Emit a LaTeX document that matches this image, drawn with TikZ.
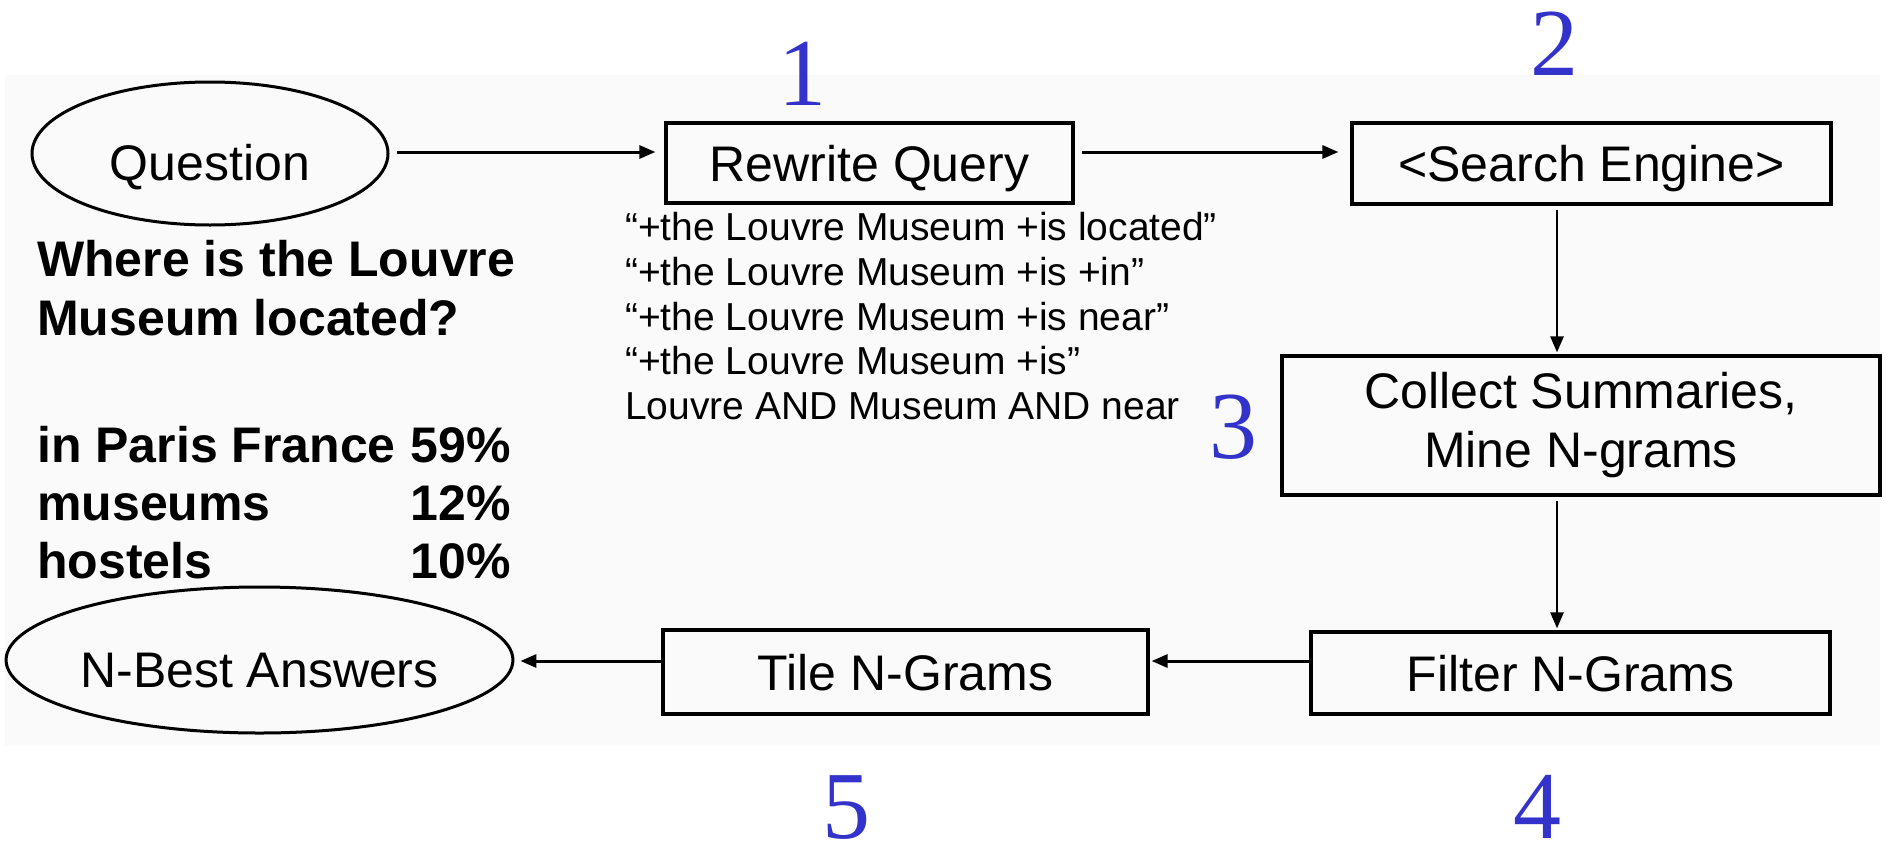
\documentclass[tikz,border=0pt]{standalone}
\usepackage{fontspec}
\setmainfont{Liberation Sans}
\newfontfamily\numfont{Liberation Serif}
\usetikzlibrary{shapes.geometric,arrows.meta}
\definecolor{stepblue}{RGB}{51,51,204}
\definecolor{bgpale}{RGB}{250,250,250}
\begin{document}
\begin{tikzpicture}[x=1pt,y=-1pt,
  boxbase/.style={draw,line width=3.2pt,inner sep=0pt,align=center,font=\fontsize{50}{59}\selectfont},
  boxnode/.style={boxbase,text height=36pt,text depth=0pt},
  ovalnode/.style={ellipse,draw,line width=3pt,inner sep=0pt,text height=54pt,text depth=0pt,font=\fontsize{50}{60}\selectfont},
  arr/.style={line width=3pt,-{Triangle[length=16pt,width=13pt]}},
  qline/.style={anchor=base west,inner sep=0pt,font=\fontsize{39}{45}\selectfont},
  boldline/.style={anchor=base west,inner sep=0pt,font=\fontsize{50}{60}\selectfont\bfseries},
  pctnode/.style={anchor=base east,inner sep=0pt,font=\fontsize{50}{60}\selectfont\bfseries},
  stepnum/.style={anchor=base,inner sep=0pt,text=stepblue,font=\fontsize{96}{100}\selectfont\numfont}
]
\useasboundingbox (0,0) rectangle (1886,846);
\fill[bgpale] (5,75) rectangle (1880,745);

% main nodes
\node[ovalnode,minimum width=356pt,minimum height=143pt] (q) at (210,153.5) {Question};
\node[boxnode,minimum width=407pt,minimum height=80pt] (rq) at (869.5,163) {Rewrite Query};
\node[boxnode,minimum width=479pt,minimum height=81pt] (se) at (1591.5,163.5) {<Search Engine>};
\node[boxbase,minimum width=598pt,minimum height=139pt] (col) at (1581,425.5) {Collect Summaries,\\Mine N-grams};
\node[boxnode,minimum width=519pt,minimum height=82pt] (fil) at (1570.5,673) {Filter N-Grams};
\node[boxnode,minimum width=485pt,minimum height=84pt] (tile) at (905.5,672) {Tile N-Grams};
\node[ovalnode,minimum width=495pt,minimum height=146pt] (nb) at (259.5,660) {N-Best Answers};

% helper coordinates for connector lines
\coordinate (ya) at (0,152);
\coordinate (yb) at (0,661);
\coordinate (vx) at (1557,0);

% connectors
\draw[arr,shorten <=7pt,shorten >=9pt] (q.east |- ya) -- (rq.west |- ya);
\draw[arr,shorten <=7pt,shorten >=12pt] (rq.east |- ya) -- (se.west |- ya);
\draw[arr,line width=2.6pt,shorten <=4pt,shorten >=2pt] (se.south -| vx) -- (col.north -| vx);
\draw[arr,line width=2.6pt,shorten <=4pt,shorten >=2pt] (col.south -| vx) -- (fil.north -| vx);
\draw[arr,shorten >=2pt] (fil.west |- yb) -- (tile.east |- yb);
\draw[arr,shorten >=6pt] (tile.west |- yb) -- (nb.east |- yb);

% rewritten queries
\node[qline] (q1) at (625,240) {“+the Louvre Museum +is located”};
\node[qline] (q2) at (625,285) {“+the Louvre Museum +is +in”};
\node[qline] (q3) at (625,330) {“+the Louvre Museum +is near”};
\node[qline] (q4) at (625,374) {“+the Louvre Museum +is”};
\node[qline] (q5) at (625,419) {Louvre AND Museum AND near};

% question text and answers
\node[boldline] (w1) at (37,276) {Where is the Louvre};
\node[boldline] (w2) at (37,335) {Museum located?};
\node[boldline] (a1) at (37,462) {in Paris France};
\node[pctnode] (p1) at (511,462) {59\%};
\node[boldline] (a2) at (37,520) {museums};
\node[pctnode] (p2) at (511,520) {12\%};
\node[boldline] (a3) at (37,578) {hostels};
\node[pctnode] (p3) at (511,578) {10\%};

% step numbers
\node[stepnum] (n1) at (802,105) {1};
\node[stepnum] (n2) at (1554,75) {2};
\node[stepnum] (n3) at (1233,458) {3};
\node[stepnum] (n4) at (1537,838) {4};
\node[stepnum] (n5) at (846,838) {5};
\end{tikzpicture}
\end{document}
